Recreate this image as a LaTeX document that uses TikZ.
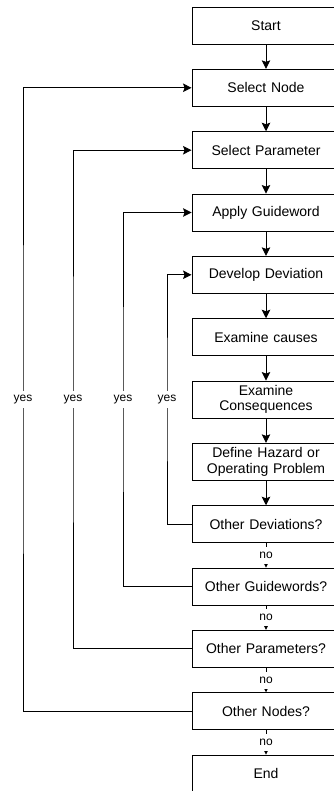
\documentclass[tikz,border=0pt]{standalone}
\usepackage{fontspec}
\setmainfont{Liberation Sans}
\usetikzlibrary{arrows.meta}
\begin{document}
\begin{tikzpicture}[x=1pt,y=-1pt,
  stepbox/.style={draw, line width=0.9pt, minimum width=148pt, minimum height=37pt,
    text width=140pt, align=center, inner sep=0pt,
    font=\fontsize{14}{15.5}\selectfont},
  flow/.style={line width=0.9pt, -{Stealth[length=8.5pt,width=8.5pt,inset=1.5pt]}},
  lbl/.style={fill=white, inner sep=0pt, minimum height=17pt, minimum width=14pt,
    font=\fontsize{12}{13}\selectfont}]
\useasboundingbox (0,0) rectangle (334,791);
\clip (0,0) rectangle (334,791);

% main sequence of steps
\node[stepbox] (start)  at (266, 25.5)  {Start};
\node[stepbox] (snode)  at (266, 87.8)  {Select Node};
\node[stepbox] (sparam) at (266, 150.2) {Select Parameter};
\node[stepbox] (guide)  at (266, 212.5) {Apply Guideword};
\node[stepbox] (dev)    at (266, 274.8) {Develop Deviation};
\node[stepbox] (causes) at (266, 337.2) {Examine causes};
\node[stepbox] (cons)   at (266, 399.5) {Examine\\Consequences};
\node[stepbox] (hazard) at (266, 461.8) {Define Hazard or\\Operating Problem};
\node[stepbox] (odev)   at (266, 524.2) {Other Deviations?};
\node[stepbox] (oguide) at (266, 586.5) {Other Guidewords?};
\node[stepbox] (oparam) at (266, 648.8) {Other Parameters?};
\node[stepbox] (onode)  at (266, 711.2) {Other Nodes?};
\node[stepbox] (finish) at (266, 773.5) {End};

% straight flow
\draw[flow] (start) -- (snode);
\draw[flow] (snode) -- (sparam);
\draw[flow] (sparam) -- (guide);
\draw[flow] (guide) -- (dev);
\draw[flow] (dev) -- (causes);
\draw[flow] (causes) -- (cons);
\draw[flow] (cons) -- (hazard);
\draw[flow] (hazard) -- (odev);

% "no" branches
\draw[flow] (odev) -- node[lbl] {no} (oguide);
\draw[flow] (oguide) -- node[lbl] {no} (oparam);
\draw[flow] (oparam) -- node[lbl] {no} (onode);
\draw[flow] (onode) -- node[lbl] {no} (finish);

% "yes" loops back
\draw[flow] (odev.west) -| (167, 399.5) node[lbl] {yes} |- (dev.west);
\draw[flow] (oguide.west) -| (123, 399.5) node[lbl] {yes} |- (guide.west);
\draw[flow] (oparam.west) -| (73, 399.5) node[lbl] {yes} |- (sparam.west);
\draw[flow] (onode.west) -| (23, 399.5) node[lbl] {yes} |- (snode.west);
\end{tikzpicture}
\end{document}
